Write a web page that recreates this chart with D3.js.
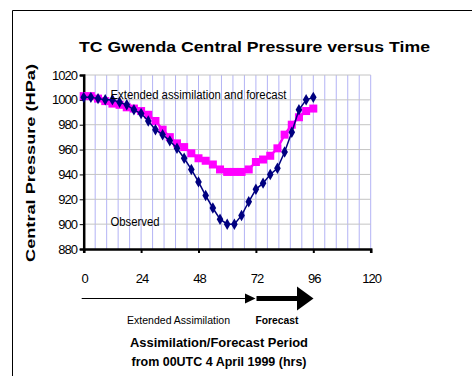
<!DOCTYPE html>
<html>
<head>
<meta charset="utf-8">
<script src="https://cdn.jsdelivr.net/npm/d3@7"></script>
<style>
  html, body { margin: 0; padding: 0; background: #fff; }
  svg text { font-family: "Liberation Sans", Arial, sans-serif; fill: #000; }
</style>
</head>
<body>
<svg id="chart" width="472" height="376"></svg>
<script>
// Hours from 00UTC 4 April 1999, 3-hourly
const hours = d3.range(0, 97, 3);
// Extended assimilation and forecast central pressure (hPa)
const forecastPressure = [1003, 1003, 1001, 999, 997, 996, 994, 993, 991, 988, 983, 976, 970,
  965, 962, 957, 953, 951, 948, 944, 942, 942, 942, 944, 950, 952, 955, 961, 972, 980, 986, 991, 993];
// Observed central pressure (hPa)
const observedPressure = [1002, 1002, 1001, 1000, 1000, 998, 996, 992, 989, 983, 976, 972, 967,
  961, 953, 944, 934, 923, 913, 904, 900, 900, 907, 918, 928, 933, 940, 945, 958, 974, 992, 1000, 1002];
const xTicks = [0, 24, 48, 72, 96, 120];
const yTicks = [880, 900, 920, 940, 960, 980, 1000, 1020];

const svg = d3.select("#chart");

// frame
svg.append("path").attr("d", "M12.5,400 V10.5 H480")
  .attr("fill", "none").attr("stroke", "#000").attr("stroke-width", 1);

const x = d3.scaleLinear().domain([0, 120]).range([83.7, 370.7]);
const y = d3.scaleLinear().domain([880, 1020]).range([249, 75]);

// vertical gridlines every 4.8 h
const vgrid = d3.range(1, 26).map(i => i * 4.8);
svg.append("g").selectAll("line").data(vgrid).join("line")
  .attr("x1", d => x(d)).attr("x2", d => x(d))
  .attr("y1", y(1020)).attr("y2", y(880))
  .attr("stroke", "#b3b3f5").attr("stroke-width", 1);

// horizontal gridlines
svg.append("g").selectAll("line").data(yTicks.slice(1)).join("line")
  .attr("x1", x(0)).attr("x2", x(120))
  .attr("y1", d => y(d)).attr("y2", d => y(d))
  .attr("stroke", "#c4c4c4").attr("stroke-width", 1);

// axes
const yAxis = svg.append("g").attr("transform", `translate(${x(0)},0)`)
  .call(d3.axisLeft(y).tickValues(yTicks).tickSize(4).tickFormat(""));
yAxis.select(".domain").attr("stroke-width", 2.5);
const xAxis = svg.append("g").attr("transform", `translate(0,${y(880)})`)
  .call(d3.axisBottom(x).tickValues(xTicks).tickSize(4).tickFormat(""));
xAxis.select(".domain").attr("stroke-width", 2.5);
xAxis.selectAll(".tick line").attr("stroke-width", 2);

// y tick labels
svg.append("g").selectAll("text").data(yTicks).join("text")
  .attr("x", 77).attr("y", d => y(d)).attr("dy", "0.35em")
  .attr("text-anchor", "end").attr("font-size", 13).attr("letter-spacing", -1)
  .text(d => d);

// x tick labels
svg.append("g").selectAll("text").data(xTicks).join("text")
  .attr("x", d => x(d) + 1).attr("y", 283)
  .attr("text-anchor", "middle").attr("font-size", 13).attr("letter-spacing", -1)
  .text(d => d);

// forecast series
const pts = (vals) => hours.map((h, i) => [h, vals[i]]);
const line = d3.line().x(d => x(d[0])).y(d => y(d[1]));

svg.append("path").datum(pts(forecastPressure)).attr("d", line)
  .attr("fill", "none").attr("stroke", "#ff00ff").attr("stroke-width", 2.5);
svg.append("g").selectAll("rect").data(pts(forecastPressure)).join("rect")
  .attr("x", d => x(d[0]) - 4).attr("y", d => y(d[1]) - 4)
  .attr("width", 8).attr("height", 8).attr("fill", "#ff00ff");

// observed series
svg.append("path").datum(pts(observedPressure)).attr("d", line)
  .attr("fill", "none").attr("stroke", "#000080").attr("stroke-width", 1.5);
svg.append("g").selectAll("path").data(pts(observedPressure)).join("path")
  .attr("d", d3.symbol(d3.symbolDiamond, 38))
  .attr("transform", d => `translate(${x(d[0])},${y(d[1])})`)
  .attr("fill", "#000080");

// series labels
svg.append("text").attr("x", 110.5).attr("y", 98.5).attr("font-size", 12)
  .attr("textLength", 176).attr("lengthAdjust", "spacingAndGlyphs")
  .text("Extended assimilation and forecast");
svg.append("text").attr("x", 110.5).attr("y", 225.5).attr("font-size", 12)
  .attr("textLength", 49).attr("lengthAdjust", "spacingAndGlyphs")
  .text("Observed");

// title
svg.append("text").attr("x", 254.5).attr("y", 51.5).attr("text-anchor", "middle")
  .attr("font-size", 15.5).attr("font-weight", "bold")
  .attr("textLength", 351).attr("lengthAdjust", "spacingAndGlyphs")
  .text("TC Gwenda Central Pressure versus Time");

// y axis title
svg.append("text").attr("transform", "translate(35,163) rotate(-90)")
  .attr("text-anchor", "middle").attr("font-size", 13).attr("font-weight", "bold")
  .attr("textLength", 198).attr("lengthAdjust", "spacingAndGlyphs")
  .text("Central  Pressure  (HPa)");

// period arrows
svg.append("line").attr("x1", x(0) - 2).attr("x2", 247).attr("y1", 298.5).attr("y2", 298.5)
  .attr("stroke", "#000").attr("stroke-width", 1);
svg.append("path").attr("d", "M245,293.5 L255.5,298.5 L245,303.5 Z").attr("fill", "#000");
svg.append("rect").attr("x", 256.5).attr("y", 296).attr("width", 42).attr("height", 5).attr("fill", "#000");
svg.append("path").attr("d", "M297,286.5 L313.5,298.5 L297,310.5 Z").attr("fill", "#000");

svg.append("text").attr("x", 178.5).attr("y", 323.5).attr("text-anchor", "middle")
  .attr("font-size", 11.5).attr("textLength", 103).attr("lengthAdjust", "spacingAndGlyphs")
  .text("Extended Assimilation");
svg.append("text").attr("x", 277).attr("y", 323.5).attr("text-anchor", "middle")
  .attr("font-size", 11.5).attr("font-weight", "bold")
  .attr("textLength", 43).attr("lengthAdjust", "spacingAndGlyphs")
  .text("Forecast");

// x axis title
svg.append("text").attr("x", 219).attr("y", 346.5).attr("text-anchor", "middle")
  .attr("font-size", 13.5).attr("font-weight", "bold")
  .attr("textLength", 178).attr("lengthAdjust", "spacingAndGlyphs")
  .text("Assimilation/Forecast  Period");
svg.append("text").attr("x", 219).attr("y", 365.5).attr("text-anchor", "middle")
  .attr("font-size", 13.5).attr("font-weight", "bold")
  .attr("textLength", 175).attr("lengthAdjust", "spacingAndGlyphs")
  .text("from 00UTC 4 April 1999 (hrs)");
</script>
</body>
</html>
